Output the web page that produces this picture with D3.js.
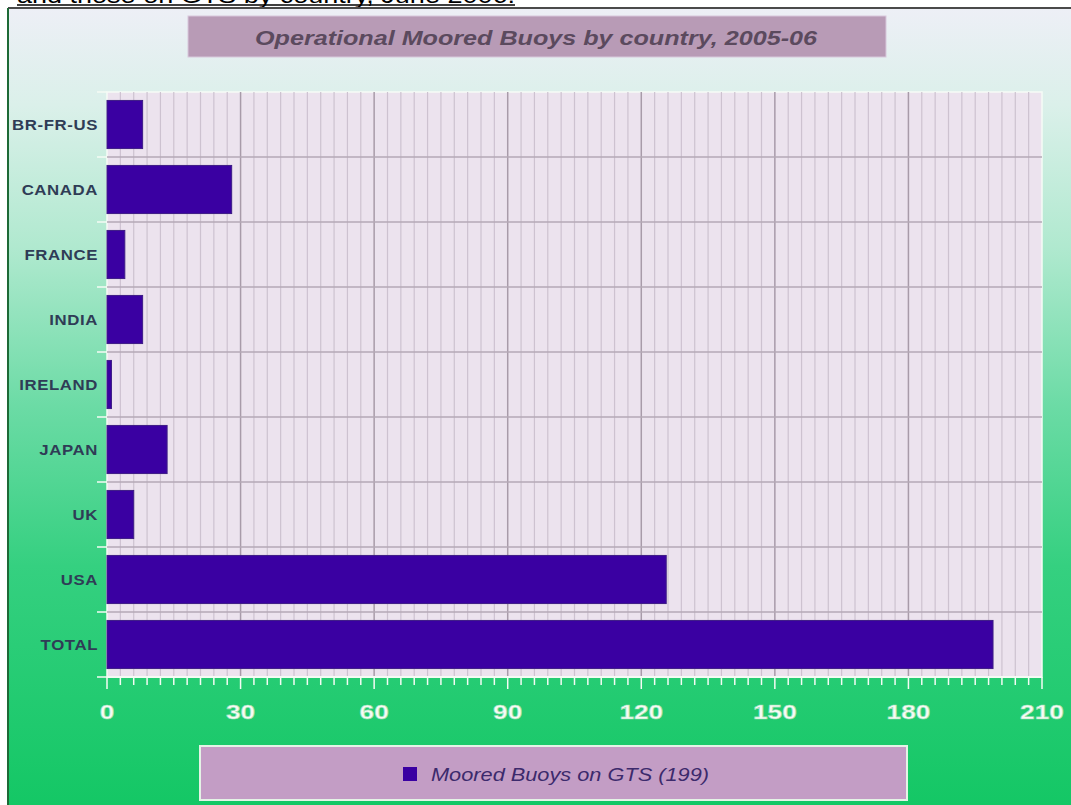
<!DOCTYPE html>
<html>
<head>
<meta charset="utf-8">
<script src="https://cdn.jsdelivr.net/npm/d3@7"></script>
<style>
	body {margin: 0; background: #fff;}
	svg {display: block;}
	text {font-family: "Liberation Sans", Arial, sans-serif;}
</style>
</head>
<body>
<svg width="1071" height="805"></svg>
<script>
'use strict';
// chart data
let countries = ["BR-FR-US", "CANADA", "FRANCE", "INDIA", "IRELAND", "JAPAN", "UK", "USA", "TOTAL"]
let buoys = [8, 28, 4, 8, 1, 13.5, 6, 125.6, 199]
let xTicks = [0, 30, 60, 90, 120, 150, 180, 210]
let sTitle = "Operational Moored Buoys by country, 2005-06"
let sCaption = "and those on GTS by country, June 2006."
let sLegend = "Moored Buoys on GTS (199)"

let eSvg = d3.select("svg"),
	dWidth = +eSvg.attr("width"),
	dHeight = +eSvg.attr("height")

let plot = {left: 107, right: 1042, top: 92, bottom: 677}
let cBar = "#3a00a2"
let dStretch = 1.2 // the source picture is stretched sideways

// background gradient for the chart frame
let defs = eSvg.append("defs")
let grad = defs.append("linearGradient").attr("id", "bg")
	.attr("x1", 0).attr("y1", 0).attr("x2", 0).attr("y2", 1)
;[[0, "#edeff6"], [0.12, "#dbf0ea"], [0.3, "#b0e9cf"], [0.5, "#6bdba5"],
	[0.7, "#35d080"], [1, "#14c765"]].forEach(s => {
	grad.append("stop").attr("offset", s[0]).attr("stop-color", s[1])})

// caption, cut at the top edge as in the source
eSvg.append("text")
	.attr("x", 17).attr("y", 3)
	.attr("font-size", 22)
	.attr("textLength", 498).attr("lengthAdjust", "spacingAndGlyphs")
	.attr("fill", "#000")
	.text(sCaption)
eSvg.append("line")
	.attr("x1", 17).attr("x2", 515).attr("y1", 5).attr("y2", 5)
	.attr("stroke", "#000").attr("stroke-width", 1.5)

// frame
eSvg.append("rect")
	.attr("x", 9).attr("y", 9).attr("width", dWidth - 9).attr("height", dHeight - 9)
	.attr("fill", "url(#bg)")
eSvg.append("line")
	.attr("x1", 8).attr("x2", dWidth).attr("y1", 8).attr("y2", 8)
	.attr("stroke", "#4a4a4a").attr("stroke-width", 2)
eSvg.append("line")
	.attr("x1", 8).attr("x2", 8).attr("y1", 8).attr("y2", dHeight)
	.attr("stroke", "#1d6a36").attr("stroke-width", 2)

// title box
eSvg.append("rect")
	.attr("x", 188).attr("y", 16).attr("width", 698).attr("height", 41)
	.attr("fill", "#b89bb6").attr("stroke", "#d8c8dc").attr("stroke-width", 1)
eSvg.append("text")
	.attr("x", 255).attr("y", 45)
	.attr("font-size", 21).attr("font-weight", "bold").attr("font-style", "italic")
	.attr("textLength", 562).attr("lengthAdjust", "spacingAndGlyphs")
	.attr("fill", "#5b4a5e")
	.text(sTitle)

// scales
let x = d3.scaleLinear().domain([0, 210]).range([plot.left, plot.right])
let y = d3.scaleBand().domain(countries).range([plot.top, plot.bottom])
	.paddingInner(0.26).paddingOuter(0.13)

// plot background
eSvg.append("rect")
	.attr("x", plot.left).attr("y", plot.top)
	.attr("width", plot.right - plot.left).attr("height", plot.bottom - plot.top)
	.attr("fill", "#ece3ee").attr("stroke", "#f6fbf6").attr("stroke-width", 1.5)

// grid: minor every 3, major every 30
let gGrid = eSvg.append("g")
gGrid.selectAll("line.minor")
	.data(d3.range(3, 210, 3).filter(v => v % 30 !== 0))
	.enter().append("line")
	.attr("class", "minor")
	.attr("x1", d => x(d)).attr("x2", d => x(d))
	.attr("y1", plot.top).attr("y2", plot.bottom)
	.attr("stroke", "#cdc2d0").attr("stroke-width", 1.2)
gGrid.selectAll("line.major")
	.data(xTicks.slice(1, -1))
	.enter().append("line")
	.attr("class", "major")
	.attr("x1", d => x(d)).attr("x2", d => x(d))
	.attr("y1", plot.top).attr("y2", plot.bottom)
	.attr("stroke", "#a89ba9").attr("stroke-width", 1.5)
let bounds = countries.slice(1).map(c => y(c) - y.step() * y.paddingInner() / 2)
gGrid.selectAll("line.hz")
	.data(bounds)
	.enter().append("line")
	.attr("class", "hz")
	.attr("x1", plot.left).attr("x2", plot.right)
	.attr("y1", d => d).attr("y2", d => d)
	.attr("stroke", "#b4a9b6").attr("stroke-width", 1.5)

// bars
eSvg.append("g").selectAll("rect")
	.data(countries)
	.enter().append("rect")
	.attr("x", x(0))
	.attr("y", d => y(d))
	.attr("width", (d, i) => x(buoys[i]) - x(0))
	.attr("height", y.bandwidth())
	.attr("fill", cBar).attr("stroke", "#3d1c86").attr("stroke-width", 1)

// x axis, white ticks
let gX = eSvg.append("g").attr("transform", `translate(0,${plot.bottom})`)
gX.append("line")
	.attr("x1", plot.left).attr("x2", plot.right)
	.attr("stroke", "#f4fbf4").attr("stroke-width", 2)
gX.selectAll("line.t")
	.data(d3.range(0, 211, 3))
	.enter().append("line")
	.attr("class", "t")
	.attr("x1", d => x(d)).attr("x2", d => x(d))
	.attr("y1", 0).attr("y2", d => d % 30 === 0 ? 12 : 8)
	.attr("stroke", "#f4fbf4").attr("stroke-width", 1.5)
gX.selectAll("text")
	.data(xTicks)
	.enter().append("text")
	.attr("transform", d => `translate(${x(d)},42) scale(1.25,1)`)
	.attr("text-anchor", "middle")
	.attr("font-size", 21).attr("font-weight", "bold")
	.attr("fill", "#f6fbf4")
	.attr("stroke", "#9ee0b6").attr("stroke-width", 0.6)
	.text(d => d)

// y axis labels and boundary ticks
let gY = eSvg.append("g")
gY.selectAll("line")
	.data([plot.top].concat(bounds).concat([plot.bottom]))
	.enter().append("line")
	.attr("x1", 97).attr("x2", plot.left)
	.attr("y1", d => d).attr("y2", d => d)
	.attr("stroke", "#f4fbf4").attr("stroke-width", 1.5)
gY.selectAll("text")
	.data(countries)
	.enter().append("text")
	.attr("transform", d => `translate(98,${y(d) + y.bandwidth() / 2 + 5}) scale(${dStretch},1)`)
	.attr("text-anchor", "end")
	.attr("font-size", 14).attr("font-weight", "bold")
	.attr("letter-spacing", 0.5)
	.attr("fill", "#2f3c56")
	.text(d => d)

// legend
eSvg.append("rect")
	.attr("x", 200).attr("y", 746).attr("width", 707).attr("height", 54)
	.attr("fill", "#c39dc5").attr("stroke", "#e4f3e6").attr("stroke-width", 2)
eSvg.append("rect")
	.attr("x", 403).attr("y", 767).attr("width", 14).attr("height", 14)
	.attr("fill", cBar)
eSvg.append("text")
	.attr("x", 431).attr("y", 781)
	.attr("font-size", 18).attr("font-style", "italic")
	.attr("textLength", 278).attr("lengthAdjust", "spacingAndGlyphs")
	.attr("fill", "#3c2a6c")
	.text(sLegend)
</script>
</body>
</html>
